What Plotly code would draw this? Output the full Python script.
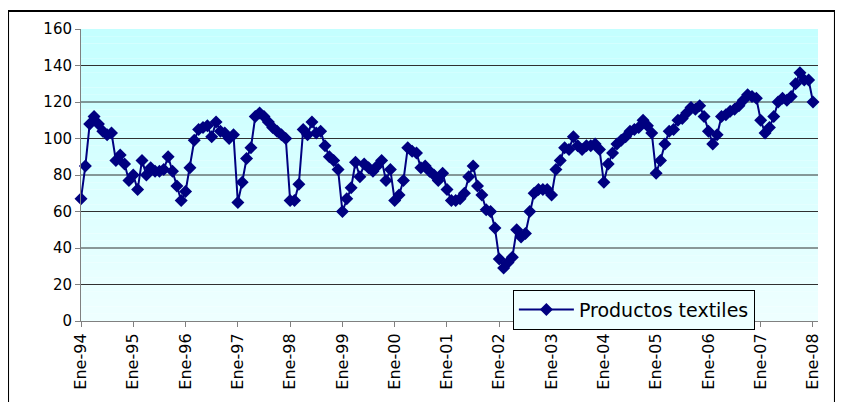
import plotly.graph_objects as go

years = ["94", "95", "96", "97", "98", "99", "00", "01", "02", "03", "04", "05", "06", "07", "08"]
tick_labels = ["Ene-" + y for y in years]

v1994 = [67, 85, 108, 112, 108, 104, 102, 103, 88, 91, 86, 77]
v1995 = [80, 72, 88, 80, 84, 82, 82, 83, 90, 82, 74, 66]
v1996 = [71, 84, 99, 105, 106, 107, 101, 109, 104, 103, 100, 102]
v1997 = [65, 76, 89, 95, 112, 114, 112, 109, 106, 104, 102, 100]
v1998 = [66, 66, 75, 105, 102, 109, 103, 104, 96, 90, 88, 83]
v1999 = [60, 67, 73, 87, 79, 86, 84, 82, 85, 88, 77, 83]
v2000 = [66, 69, 77, 95, 93, 92, 84, 85, 82, 80, 77, 81]
v2001 = [72, 66, 66, 67, 70, 79, 85, 74, 69, 61, 60, 51]
v2002 = [34, 29, 32, 35, 50, 46, 48, 60, 70, 72, 72, 72]
v2003 = [69, 83, 88, 95, 94, 101, 96, 94, 96, 96, 97, 94]
v2004 = [76, 86, 92, 97, 99, 101, 104, 105, 106, 110, 107, 103]
v2005 = [81, 88, 97, 104, 105, 110, 111, 114, 117, 116, 118, 112]
v2006 = [104, 97, 102, 112, 113, 115, 116, 118, 121, 124, 123, 122]
v2007 = [110, 103, 106, 112, 120, 122, 121, 123, 130, 136, 132, 132]
v2008 = [120]

values = (v1994 + v1995 + v1996 + v1997 + v1998 + v1999 + v2000 + v2001 +
          v2002 + v2003 + v2004 + v2005 + v2006 + v2007 + v2008)
months = list(range(len(values)))
tick_pos = list(range(0, len(values), 12))

fig = go.Figure()
fig.add_trace(go.Scatter(
    x=months, y=values, mode="lines+markers", name="Productos textiles",
    line=dict(color="#000080", width=2),
    marker=dict(symbol="diamond", size=10, color="#000080"),
    cliponaxis=False,
))

shapes = []
# vertical gradient background of the plot area
n = 40
top = (196, 255, 255)
bot = (238, 255, 255)
for i in range(n):
    t = i / (n - 1)
    c = tuple(round(bot[k] + (top[k] - bot[k]) * t) for k in range(3))
    shapes.append(dict(type="rect", xref="paper", yref="paper",
                       x0=0, x1=1, y0=i / n, y1=(i + 1) / n,
                       fillcolor="rgb(%d,%d,%d)" % c, line=dict(width=0),
                       layer="below"))
for gy in range(20, 160, 20):
    shapes.append(dict(type="line", xref="paper", yref="y", x0=0, x1=1,
                       y0=gy, y1=gy, line=dict(color="#303030", width=1),
                       layer="below"))
# outer chart frame
shapes.append(dict(type="rect", xref="paper", yref="paper",
                   x0=-0.099, x1=1.023, y0=-0.35, y1=1.062,
                   line=dict(color="black", width=2), fillcolor="rgba(0,0,0,0)",
                   layer="above"))

fig.update_layout(
    width=835, height=394,
    margin=dict(l=73, r=25, t=20, b=75),
    paper_bgcolor="white", plot_bgcolor="rgba(0,0,0,0)",
    shapes=shapes,
    font=dict(family="DejaVu Sans", color="black"),
    showlegend=True,
    legend=dict(x=0.586, y=0.107, xanchor="left", yanchor="top",
                bgcolor="rgb(238,255,255)", bordercolor="black", borderwidth=1,
                font=dict(size=19, family="DejaVu Sans", color="black"),
                itemwidth=55, tracegroupgap=0),
)
fig.update_xaxes(
    range=[0, len(values) - 1 + 1.15],
    tickmode="array", tickvals=tick_pos, ticktext=tick_labels,
    tickangle=-90, tickfont=dict(size=16, family="DejaVu Sans"),
    ticks="outside", ticklen=5, tickcolor="#808080",
    showline=True, linecolor="#808080", linewidth=1,
    showgrid=False, zeroline=False,
)
fig.update_yaxes(
    range=[0, 160], tick0=0, dtick=20,
    tickfont=dict(size=15, family="DejaVu Sans"),
    ticks="outside", ticklen=5, tickcolor="#808080",
    showline=True, linecolor="#808080", linewidth=1,
    showgrid=False, zeroline=False,
)

fig.write_html("out.html")
